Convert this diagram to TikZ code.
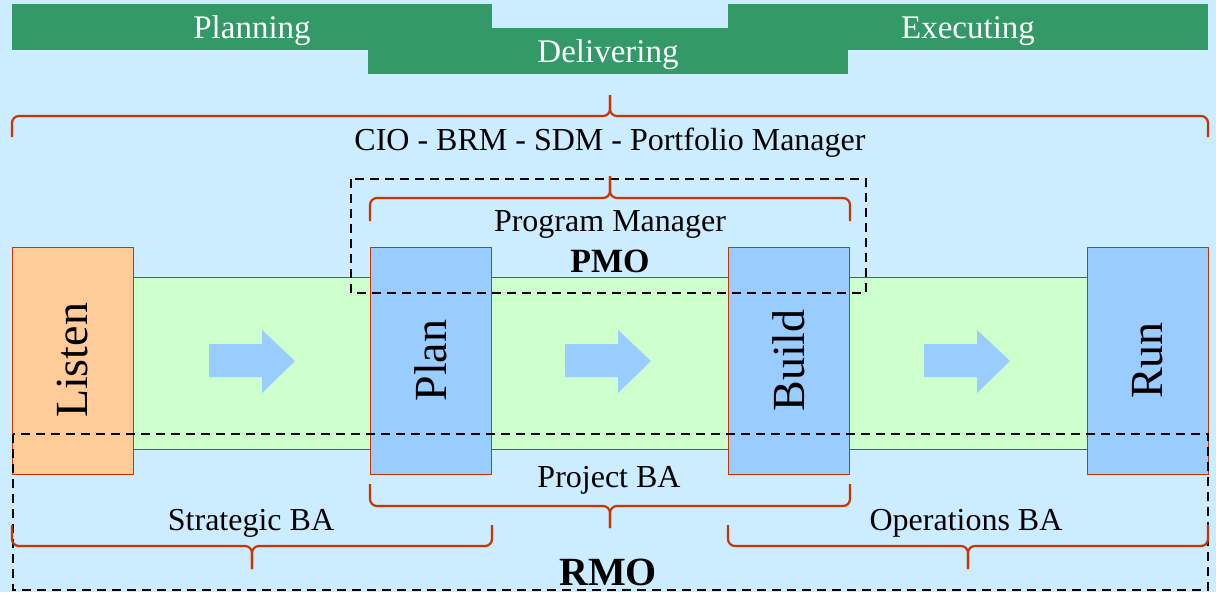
\documentclass[tikz,border=0pt]{standalone}
\usepackage{fontspec}
\setmainfont{Liberation Serif}
\definecolor{sky}{HTML}{CCECFF}
\definecolor{leaf}{HTML}{339966}
\definecolor{mint}{HTML}{CCFFCC}
\definecolor{bluebox}{HTML}{99CCFF}
\definecolor{peach}{HTML}{FFCC99}
\definecolor{rust}{HTML}{CC3300}
\tikzset{
  phase/.style={fill=leaf, text=white, minimum width=480pt, minimum height=46pt, inner sep=0pt, text height=22pt, text depth=0pt, font=\fontsize{33}{33}\selectfont},
  stage/.style={draw=rust, line width=0.8pt, fill=bluebox, minimum width=227pt, minimum height=121pt, inner sep=0pt, rotate=90, font=\fontsize{46}{46}\selectfont},
  lbl/.style={inner sep=0pt, font=\fontsize{32}{32}\selectfont},
  office/.style={inner sep=0pt, text height=22pt, text depth=0pt, font=\fontsize{34}{34}\selectfont\bfseries},
  curly/.style={draw=rust, line width=2.2pt, rounded corners=7pt},
  zone/.style={draw, line width=2.7pt, dash pattern=on 9pt off 6pt}
}
% x1 x2 yend yh ytip
\newcommand\orbrace[5]{%
  \draw[curly] (#1,#3) -- (#1,#4) -- ({(#1+#2)/2},#4) -- ({(#1+#2)/2},#5);
  \draw[curly] (#2,#3) -- (#2,#4) -- ({(#1+#2)/2},#4) -- ({(#1+#2)/2},#5);}
\begin{document}
\begin{tikzpicture}[x=1pt, y=-1pt]
  \fill[sky] (0,0) rectangle (1216,592);
  \useasboundingbox (0,0) rectangle (1216,592);
  % phases
  \node[phase] (planning) at (252,27) {Planning};
  \node[phase] (executing) at (968,27) {Executing};
  \node[phase] (delivering) at (608,51) {Delivering};
  \orbrace{12}{1208}{137}{116}{95}
  \node[lbl] (cio) at (610,143) {CIO - BRM - SDM - Portfolio Manager};
  % band
  \draw[rust, line width=0.8pt, fill=mint] (12,277) rectangle (1208,449);
  \foreach \x in {209,565,924}
    \fill[bluebox] (\x,344) -- ++(53,0) -- ++(0,-14) -- ++(33,31) -- ++(-33,32) -- ++(0,-16) -- ++(-53,0) -- cycle;
  \node[stage, fill=peach] (listen) at (72.5,360.5) {Listen};
  \node[stage] (plan) at (430.5,360.5) {Plan};
  \node[stage] (build) at (788.5,360.5) {Build};
  \node[stage] (run) at (1147.5,360.5) {Run};
  % PMO
  \draw[zone] (351,179) rectangle (866,293);
  \orbrace{370}{850}{221}{198}{176}
  \node[lbl] (progman) at (610,224) {Program Manager};
  \node[office] (pmo) at (610,261) {PMO};
  % RMO
  \draw[zone] (13,434) rectangle (1208,590);
  \node[lbl] (project) at (609,480) {Project BA};
  \orbrace{370}{850}{484}{506}{528}
  \node[lbl] (strategic) at (251,523) {Strategic BA};
  \orbrace{12}{492}{525}{546}{569}
  \node[lbl] (operations) at (966,523) {Operations BA};
  \orbrace{728}{1208}{525}{546}{569}
  \node[office, text height=26pt, font=\fontsize{40}{40}\selectfont\bfseries] (rmo) at (608,572) {RMO};
\end{tikzpicture}
\end{document}
